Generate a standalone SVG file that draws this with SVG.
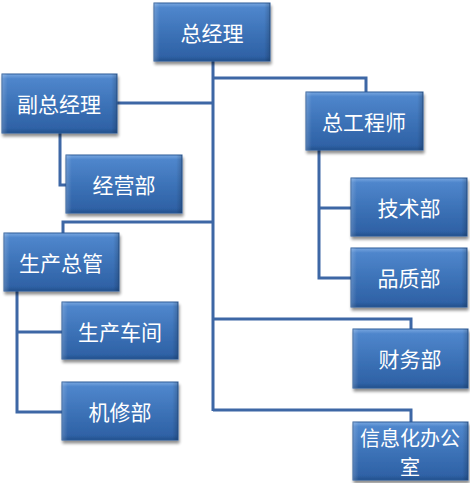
<svg xmlns="http://www.w3.org/2000/svg" width="470" height="483" viewBox="0 0 470 483">
<defs>
<linearGradient id="g" x1="0" y1="0" x2="0" y2="1">
<stop offset="0" stop-color="#79a7e0"/>
<stop offset="0.08" stop-color="#4f86cc"/>
<stop offset="0.55" stop-color="#3b71b6"/>
<stop offset="0.92" stop-color="#2f62a6"/>
<stop offset="1" stop-color="#24508c"/>
</linearGradient>
<linearGradient id="side" x1="0" y1="0" x2="1" y2="0">
<stop offset="0" stop-color="#ffffff" stop-opacity="0.18"/>
<stop offset="0.05" stop-color="#ffffff" stop-opacity="0"/>
<stop offset="0.95" stop-color="#000000" stop-opacity="0"/>
<stop offset="1" stop-color="#000000" stop-opacity="0.18"/>
</linearGradient>
<filter id="sh" x="-10%" y="-10%" width="130%" height="140%">
<feGaussianBlur in="SourceAlpha" stdDeviation="1.8"/>
<feOffset dx="1" dy="3" result="b"/>
<feComponentTransfer><feFuncA type="linear" slope="0.45"/></feComponentTransfer>
<feMerge><feMergeNode/><feMergeNode in="SourceGraphic"/></feMerge>
</filter>
</defs>
<style>
.box{fill:url(#g);stroke:#2b5a98;stroke-width:1;filter:url(#sh)}
.ov{fill:url(#side)}
.t{fill:#ffffff;font-family:"Noto Sans CJK SC","Noto Sans",sans-serif;font-size:21px;text-anchor:middle;dominant-baseline:central}
.s{font-size:20px}
.c{fill:none;stroke:#3d67a5;stroke-width:3}
</style>
<g id="connectors">
<path class="c" d="M213,61 V411"/>
<path class="c" d="M213,78 H366 V92"/>
<path class="c" d="M117,103 H213"/>
<path class="c" d="M60,133 V185 H66"/>
<path class="c" d="M213,222 H63 V233"/>
<path class="c" d="M319,150 V278 H351"/>
<path class="c" d="M319,208 H351"/>
<path class="c" d="M17,291 V412 H62"/>
<path class="c" d="M17,332 H62"/>
<path class="c" d="M213,319 H411 V329"/>
<path class="c" d="M213,410 H411 V422"/>
</g>
<g id="n1"><rect class="box" x="154" y="3" width="116" height="58"/><rect class="ov" x="154" y="3" width="116" height="58"/><text class="t" x="212" y="32">总经理</text></g>
<g id="n2"><rect class="box" x="2" y="74" width="115" height="59"/><rect class="ov" x="2" y="74" width="115" height="59"/><text class="t" x="59" y="103">副总经理</text></g>
<g id="n3"><rect class="box" x="66" y="155" width="116" height="58"/><rect class="ov" x="66" y="155" width="116" height="58"/><text class="t" x="124" y="184">经营部</text></g>
<g id="n4"><rect class="box" x="306" y="92" width="117" height="58"/><rect class="ov" x="306" y="92" width="117" height="58"/><text class="t" x="364" y="121">总工程师</text></g>
<g id="n5"><rect class="box" x="351" y="178" width="116" height="58"/><rect class="ov" x="351" y="178" width="116" height="58"/><text class="t" x="409" y="207">技术部</text></g>
<g id="n6"><rect class="box" x="351" y="248" width="116" height="59"/><rect class="ov" x="351" y="248" width="116" height="59"/><text class="t" x="409" y="277">品质部</text></g>
<g id="n7"><rect class="box" x="4" y="233" width="115" height="58"/><rect class="ov" x="4" y="233" width="115" height="58"/><text class="t" x="61" y="262">生产总管</text></g>
<g id="n8"><rect class="box" x="62" y="302" width="116" height="57"/><rect class="ov" x="62" y="302" width="116" height="57"/><text class="t" x="120" y="331">生产车间</text></g>
<g id="n9"><rect class="box" x="62" y="382" width="116" height="58"/><rect class="ov" x="62" y="382" width="116" height="58"/><text class="t" x="120" y="411">机修部</text></g>
<g id="n10"><rect class="box" x="353" y="329" width="115" height="59"/><rect class="ov" x="353" y="329" width="115" height="59"/><text class="t" x="410" y="358">财务部</text></g>
<g id="n11"><rect class="box" x="353" y="422" width="115" height="58"/><rect class="ov" x="353" y="422" width="115" height="58"/><text class="t s" x="410" y="437">信息化办公</text><text class="t s" x="410" y="466">室</text></g>
</svg>
